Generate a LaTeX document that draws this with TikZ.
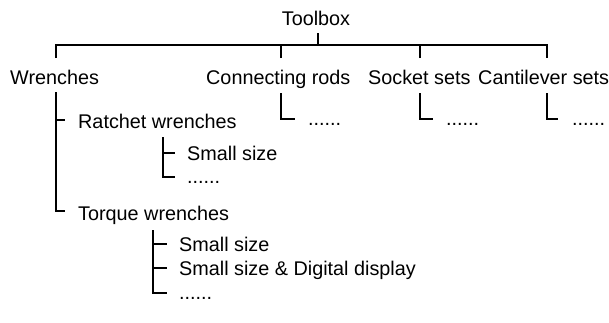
\documentclass[tikz,border=0pt]{standalone}
\usepackage{fontspec}
\setmainfont{Liberation Sans}
\begin{document}
\begin{tikzpicture}[x=1pt,y=-1pt,
  lbl/.style={anchor=base west,inner sep=0pt,font=\fontsize{19.8}{24}\selectfont},
  tree/.style={line width=1.9pt,black}]
\useasboundingbox (0,0) rectangle (609,322);
% labels
\node[lbl,anchor=base] (toolbox) at (316,25) {Toolbox};
\node[lbl] (wrenches) at (10,84) {Wrenches};
\node[lbl] (rods) at (206,84) {Connecting rods};
\node[lbl] (socket) at (368,84) {Socket sets};
\node[lbl] (cant) at (478,84) {Cantilever sets};
\node[lbl] (rodsdots) at (308,125) {......};
\node[lbl] (socketdots) at (446,125) {......};
\node[lbl] (cantdots) at (572,125) {......};
\node[lbl] (ratchet) at (78,128) {Ratchet wrenches};
\node[lbl] (rsmall) at (187,160) {Small size};
\node[lbl] (rdots) at (187,183) {......};
\node[lbl] (torque) at (78,220) {Torque wrenches};
\node[lbl] (tsmall) at (179,251) {Small size};
\node[lbl] (tdigital) at (179,275) {Small size \& Digital display};
\node[lbl] (tdots) at (179,299) {......};
% connector points
\coordinate (tb1) at (318,33);
\coordinate (tb2) at (318,45);
\coordinate (wr1) at (56,58);
\coordinate (wrb) at (56,45);
\coordinate (clb) at (547,45);
\coordinate (cl1) at (547,58);
\coordinate (cr1) at (281,58);
\coordinate (crb) at (281,45);
\coordinate (sk1) at (420,58);
\coordinate (skb) at (420,45);
\coordinate (wr2) at (56,92);
\coordinate (rtT) at (65,120);
\coordinate (tqT) at (65,211);
\coordinate (cr2) at (281,93);
\coordinate (crd) at (295,119);
\coordinate (sk2) at (420,93);
\coordinate (skd) at (433,119);
\coordinate (cl2) at (547,93);
\coordinate (cld) at (558,119);
\coordinate (rs) at (163,137);
\coordinate (rs1) at (175,153);
\coordinate (rs2) at (175,177);
\coordinate (ts) at (153,230);
\coordinate (ts1) at (167,244);
\coordinate (ts2) at (167,268);
\coordinate (ts3) at (167,293);
% connectors
\draw[tree] (tb1) -- (tb2);
\draw[tree] (wr1) -- (wrb) -- (clb) -- (cl1);
\draw[tree] (cr1) -- (crb);
\draw[tree] (sk1) -- (skb);
\draw[tree] (wr2) |- (rtT);
\draw[tree] (wr2) |- (tqT);
\draw[tree] (cr2) |- (crd);
\draw[tree] (sk2) |- (skd);
\draw[tree] (cl2) |- (cld);
\draw[tree] (rs) |- (rs1);
\draw[tree] (rs) |- (rs2);
\draw[tree] (ts) |- (ts1);
\draw[tree] (ts) |- (ts2);
\draw[tree] (ts) |- (ts3);
\end{tikzpicture}
\end{document}
